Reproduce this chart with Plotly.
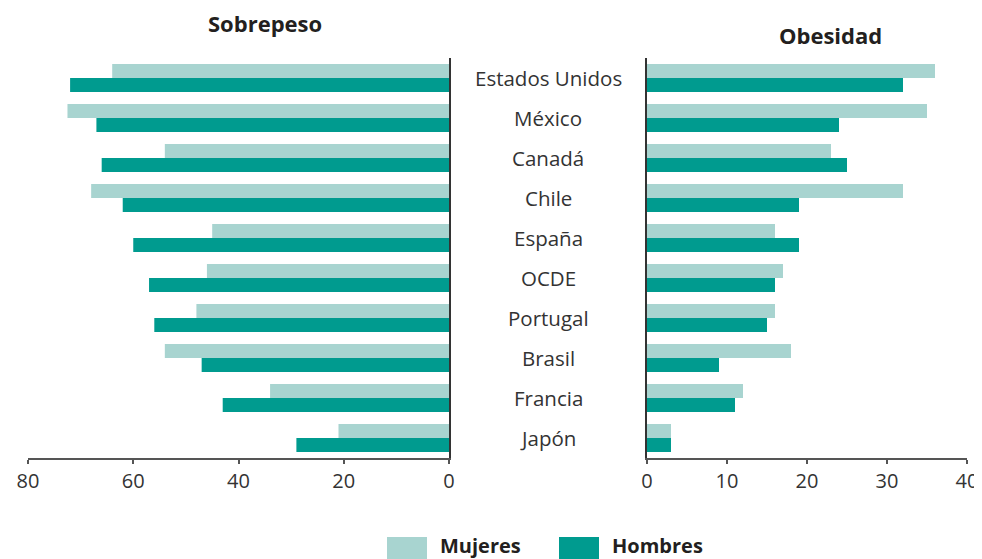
import plotly.graph_objects as go

countries = ["Estados Unidos", "México", "Canadá", "Chile", "España", "OCDE",
             "Portugal", "Brasil", "Francia", "Japón"]
sobrepeso_mujeres = [64, 72.5, 54, 68, 45, 46, 48, 54, 34, 21]
sobrepeso_hombres = [72, 67, 66, 62, 60, 57, 56, 47, 43, 29]
obesidad_mujeres = [36, 35, 23, 32, 16, 17, 16, 18, 12, 3]
obesidad_hombres = [32, 24, 25, 19, 19, 16, 15, 9, 11, 3]
left_ticks = [0, 20, 40, 60, 80]
right_ticks = [0, 10, 20, 30, 40]

C_LIGHT = "#a8d4d0"
C_DARK = "#009b8f"
FONT = "Open Sans"
W, H = 982, 559
OFF = 8  # page body margin
FW, FH = W - OFF, H - OFF


def px(x):
    return (x - OFF) / FW


def py(y):
    return 1 - (y - OFF) / FH


fig = go.Figure()
fig.add_trace(go.Bar(y=countries, x=sobrepeso_mujeres, orientation="h", name="Mujeres",
                     marker=dict(color=C_LIGHT, line=dict(width=0)), xaxis="x", yaxis="y", showlegend=False))
fig.add_trace(go.Bar(y=countries, x=sobrepeso_hombres, orientation="h", name="Hombres",
                     marker=dict(color=C_DARK, line=dict(width=0)), xaxis="x", yaxis="y", showlegend=False))
fig.add_trace(go.Bar(y=countries, x=obesidad_mujeres, orientation="h", name="Mujeres",
                     marker=dict(color=C_LIGHT, line=dict(width=0)), xaxis="x2", yaxis="y2", showlegend=False))
fig.add_trace(go.Bar(y=countries, x=obesidad_hombres, orientation="h", name="Hombres",
                     marker=dict(color=C_DARK, line=dict(width=0)), xaxis="x2", yaxis="y2", showlegend=False))

ydom = [py(458), py(58)]
axis_common = dict(showgrid=False, zeroline=False, showline=True, linecolor="#555555", linewidth=1.5,
                   ticks="outside", ticklen=4, tickcolor="#555555", tickwidth=1.5, automargin=False,
                   tickfont=dict(family=FONT, size=20, color="#333333"))

fig.update_layout(
    width=FW, height=FH,
    margin=dict(l=0, r=0, t=0, b=0, autoexpand=False),
    paper_bgcolor="white", plot_bgcolor="white",
    barmode="group", bargap=0.3, bargroupgap=0,
    font=dict(family=FONT, color="#333333"),
    xaxis=dict(domain=[px(28), px(449)], range=[80, 0], tickvals=left_ticks, anchor="y", **axis_common),
    yaxis=dict(domain=ydom, categoryorder="array", categoryarray=countries, autorange="reversed",
               side="right", showline=True, linecolor="#333333", linewidth=1.5, showticklabels=False,
               ticks="", showgrid=False, zeroline=False, anchor="x", automargin=False),
    xaxis2=dict(domain=[px(647), px(967)], range=[0, 40], tickvals=right_ticks, anchor="y2", **axis_common),
    yaxis2=dict(domain=ydom, categoryorder="array", categoryarray=countries, autorange="reversed",
                side="left", showline=True, linecolor="#333333", linewidth=1.5, showticklabels=False,
                ticks="", showgrid=False, zeroline=False, anchor="x2", automargin=False),
)

annotations = []
for c in countries:
    annotations.append(dict(x=px(548), xref="paper", y=c, yref="y", text=c, showarrow=False,
                            xanchor="center", yanchor="middle",
                            font=dict(family=FONT, size=20.5, color="#333333")))
annotations.append(dict(x=px(265), xref="paper", y=py(23), yref="paper", text="<b>Sobrepeso</b>",
                        showarrow=False, xanchor="center", yanchor="middle",
                        font=dict(family=FONT, size=22, color="#231f20")))
annotations.append(dict(x=px(830), xref="paper", y=py(35), yref="paper", text="<b>Obesidad</b>",
                        showarrow=False, xanchor="center", yanchor="middle",
                        font=dict(family=FONT, size=22, color="#231f20")))
annotations.append(dict(x=px(438), xref="paper", y=py(545), yref="paper", text="<b>Mujeres</b>",
                        showarrow=False, xanchor="left", yanchor="middle",
                        font=dict(family=FONT, size=20, color="#231f20")))
annotations.append(dict(x=px(610), xref="paper", y=py(545), yref="paper", text="<b>Hombres</b>",
                        showarrow=False, xanchor="left", yanchor="middle",
                        font=dict(family=FONT, size=20, color="#231f20")))
fig.update_layout(annotations=annotations)

fig.update_layout(shapes=[
    dict(type="rect", xref="paper", yref="paper", x0=px(387), x1=px(427), y0=0, y1=py(537),
         fillcolor=C_LIGHT, line=dict(width=0)),
    dict(type="rect", xref="paper", yref="paper", x0=px(559), x1=px(599), y0=0, y1=py(537),
         fillcolor=C_DARK, line=dict(width=0)),
])

fig.write_html("out.html")
